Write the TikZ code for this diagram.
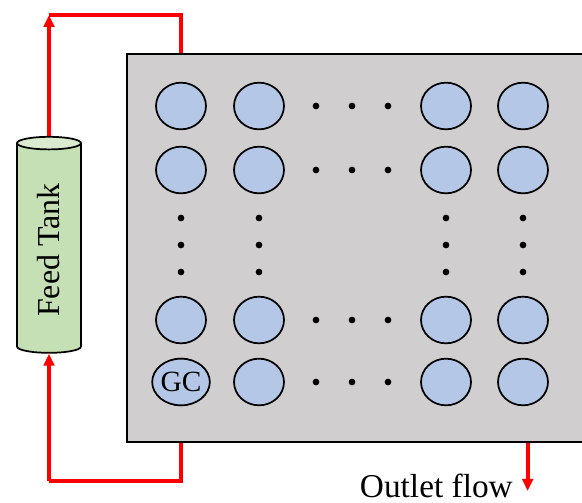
\documentclass[tikz,border=0pt]{standalone}
\usepackage{fontspec}
\setmainfont{Liberation Serif}
\usetikzlibrary{shapes.geometric, arrows.meta, positioning}

\begin{document}
\begin{tikzpicture}[
  x=0.75pt, y=-0.75pt,
  reactor_box/.style={rectangle, draw=black, fill=gray_fill, line width=1.4pt, minimum width=355pt, minimum height=291pt},
  cell/.style={ellipse, draw=black, fill=cell_blue, line width=1.3pt, minimum width=37.5pt, minimum height=35pt, inner sep=0pt, font=\fontsize{22}{22}\selectfont},
  tank_box/.style={cylinder, rotate=90, draw=black, line width=1.3pt, aspect=0.4, minimum width=48pt, minimum height=162pt, cylinder uses custom fill, cylinder body fill=tank_green, cylinder end fill=tank_end, font=\fontsize{24}{24}\selectfont},
  dot/.style={circle, fill=black, inner sep=0pt, minimum size=5pt},
  flow/.style={red, line width=3pt},
  flow_arrow/.style={flow, -{Triangle[width=8pt, length=9pt]}}
]
\definecolor{gray_fill}{RGB}{208,206,206}
\definecolor{cell_blue}{RGB}{180,199,231}
\definecolor{tank_green}{RGB}{197,224,180}
\definecolor{tank_end}{RGB}{218,235,208}

\useasboundingbox (0,0) rectangle (582,503);
\clip (0,0) rectangle (582,503);

% Reactor plate
\node[reactor_box] (reactor) at (363.5,248) {};

% Grid of cells
\foreach \r/\y in {1/106, 2/170, 4/320, 5/382}
  \foreach \c/\x in {1/181, 2/259, 3/446, 4/523}
    \node[cell] (e\r\c) at (\x,\y) {};
\node[cell] at (e51) {GC};

% Dots between columns
\foreach \r in {1,2,4,5}
  \foreach \x in {316, 352, 388}
    \node[dot] at (\x,0 |- e\r1) {};
% Dots between rows
\foreach \c in {1,2,3,4}
  \foreach \y in {218, 245, 272}
    \node[dot] at (e1\c |- 0,\y) {};

% Feed tank
\node[tank_box] (tank) at (49,250) {Feed Tank};

% Flow lines
\coordinate (top_left) at (tank.top |- 0,15);
\coordinate (bottom_left) at (tank.bottom |- 0,481);
\draw[flow_arrow] (tank.top) -- (top_left);
\draw[flow] (top_left) -| (e11 |- reactor.north);
\draw[flow] (e51 |- reactor.south) |- (bottom_left);
\draw[flow_arrow] (bottom_left) -- (tank.bottom);

% Outlet
\coordinate (outlet_start) at ([xshift=3.5pt]e54 |- reactor.south);
\coordinate (outlet_end) at ([yshift=-36pt]outlet_start);
\draw[flow_arrow] (outlet_start) -- (outlet_end);
\node[anchor=base east, inner sep=0pt, font=\fontsize{25}{25}\selectfont] (outlet) at (513,497) {Outlet flow};

\end{tikzpicture}
\end{document}
